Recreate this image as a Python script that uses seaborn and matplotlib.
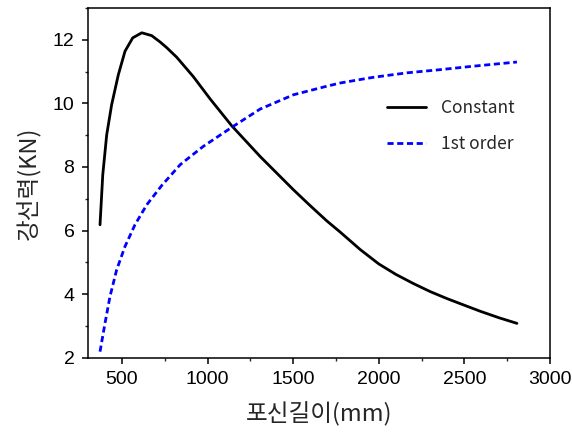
import matplotlib
matplotlib.use("Agg")
import matplotlib.pyplot as plt
from matplotlib.ticker import MultipleLocator
import seaborn as sns
import pandas as pd

const_x = [372, 388, 411, 440, 479, 518, 563, 616, 674, 723, 762, 820, 917, 1015, 1142,
           1307, 1502, 1600, 1697, 1775, 1892, 2000, 2100, 2203, 2300, 2398, 2500, 2593, 2700, 2807]
const_y = [6.18, 7.75, 9.01, 9.96, 10.9, 11.64, 12.06, 12.22, 12.13, 11.93, 11.75, 11.45, 10.84, 10.14, 9.29,
           8.33, 7.28, 6.78, 6.30, 5.95, 5.40, 4.95, 4.62, 4.33, 4.08, 3.86, 3.65, 3.46, 3.26, 3.08]

first_x = [372, 401, 430, 469, 518, 576, 645, 733, 840, 917, 976, 1151, 1307, 1502, 1697,
           1775, 1892, 1969, 2165, 2359, 2554, 2807]
first_y = [2.19, 3.08, 3.92, 4.76, 5.50, 6.18, 6.81, 7.42, 8.07, 8.40, 8.65, 9.28, 9.82, 10.27, 10.54,
           10.64, 10.75, 10.82, 10.96, 11.06, 11.17, 11.30]

series_names = ["Constant", "1st order"]
x_ticks = [500, 1000, 1500, 2000, 2500, 3000]
y_ticks = [2, 4, 6, 8, 10, 12]
x_label = "포신길이(mm)"
y_label = "강선력(KN)"

sns.set_style("ticks")
plt.rcParams['font.family'] = ['Liberation Sans', 'Noto Sans CJK KR', 'DejaVu Sans']

fig = plt.figure(figsize=(5.72, 4.36), dpi=100)
ax = fig.add_axes([0.1533, 0.1796, 0.8082, 0.8021])

df1 = pd.DataFrame({"x": const_x, "y": const_y})
df2 = pd.DataFrame({"x": first_x, "y": first_y})
sns.lineplot(data=df1, x="x", y="y", ax=ax, color="black", lw=2.0, label=series_names[0], sort=False)
sns.lineplot(data=df2, x="x", y="y", ax=ax, color="#0000ff", lw=2.0, label=series_names[1], sort=False)
ax.lines[0].set_solid_joinstyle("round")
ax.lines[1].set_dashes([2.2, 1.3])

ax.set_xlim(300, 3000)
ax.set_ylim(2, 13)
ax.set_xticks(x_ticks)
ax.set_yticks(y_ticks)
ax.xaxis.set_minor_locator(MultipleLocator(250))
ax.yaxis.set_minor_locator(MultipleLocator(1))
ax.tick_params(axis="both", which="major", direction="out", length=4.5, width=1.1, labelsize=14, colors="black", pad=5)
ax.tick_params(axis="both", which="minor", direction="out", length=2.5, width=1.0)
ax.tick_params(top=False, right=False, which="both")
for s in ax.spines.values():
    s.set_visible(True)
    s.set_linewidth(1.1)
    s.set_color("black")

ax.set_xlabel(x_label, fontsize=17, family=['Noto Sans CJK KR', 'DejaVu Sans'], labelpad=10)
ax.set_ylabel(y_label, fontsize=17, family=['Noto Sans CJK KR', 'DejaVu Sans'], labelpad=8)

leg = ax.legend(loc="center left", bbox_to_anchor=(0.6468, 0.6626), frameon=False,
                borderpad=0, borderaxespad=0,
                prop={'family': ['Noto Sans CJK KR', 'DejaVu Sans'], 'size': 12.5},
                handlelength=2.24, handletextpad=0.9, labelspacing=1.0)

fig.savefig("out.png", dpi=100)
